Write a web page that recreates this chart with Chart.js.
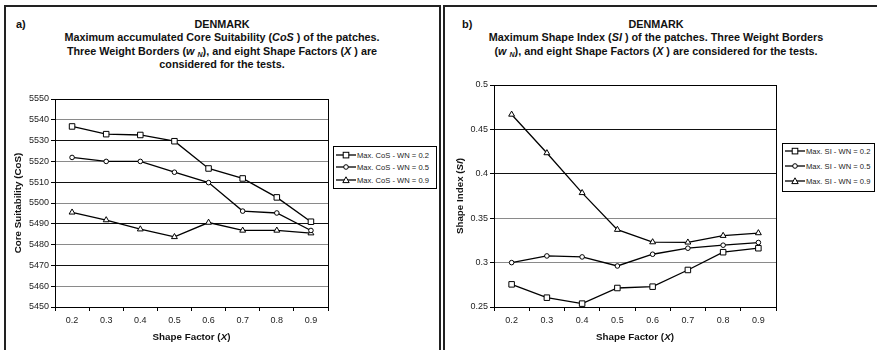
<!DOCTYPE html>
<html>
<head>
<meta charset="utf-8">
<script src="https://cdn.jsdelivr.net/npm/chart.js@4/dist/chart.umd.min.js"></script>
<style>
  html, body { margin:0; padding:0; background:#fff; }
  body { width:877px; height:350px; position:relative; overflow:hidden; font-family:"Liberation Sans", Arial, sans-serif; color:#111; }
  .panel { position:absolute; border:2px solid #222; box-sizing:border-box; }
  .title { position:absolute; text-align:center; font-weight:bold; font-size:10.8px; line-height:13.5px; color:#111; white-space:nowrap; }
  .tag { position:absolute; font-weight:bold; font-size:11px; line-height:13px; color:#111; }
  canvas { position:absolute; }
  .legend { position:absolute; border:1px solid #000; background:#fff; box-sizing:border-box; font-size:7.6px; color:#222; }
  .legend .row { position:absolute; left:0; height:10px; display:flex; align-items:center; white-space:nowrap; }
  .legend svg { display:block; }
  sub { font-size:7px; vertical-align:-2px; line-height:0; }
</style>
</head>
<body>
<div class="panel" style="left:4px; top:5px; width:437px; height:400px;"></div>
<div class="panel" style="left:443px; top:5px; width:450px; height:400px;"></div>

<div class="tag" style="left:16px; top:18px;">a)</div>
<div class="title" style="left:4px; width:436px; top:17.5px;">DENMARK<br>Maximum accumulated Core Suitability (<i>CoS</i> ) of the patches.<br>Three Weight Borders (<i>w <sub>N</sub></i>), and eight Shape Factors (<i>X</i> ) are<br>considered for the tests.</div>

<div class="tag" style="left:462px; top:18px;">b)</div>
<div class="title" style="left:444px; width:424px; top:17.5px;">DENMARK<br>Maximum Shape Index (<i>SI</i> ) of the patches. Three Weight Borders<br>(<i>w <sub>N</sub></i>), and eight Shape Factors (<i>X</i> ) are considered for the tests.</div>

<canvas id="c1" width="440" height="280" style="left:0px; top:70px;"></canvas>
<canvas id="c2" width="433" height="280" style="left:444px; top:70px;"></canvas>

<div class="legend" id="lg1" style="left:333px; top:146px; width:104px; height:43px;"></div>
<div class="legend" id="lg2" style="left:782px; top:143px; width:93px; height:49px;"></div>

<script>
// ---- data ----
const shapeFactors = ['0.2','0.3','0.4','0.5','0.6','0.7','0.8','0.9'];

const cosWN02 = [5536.8, 5533.1, 5532.7, 5529.7, 5516.6, 5511.8, 5502.7, 5491.0];
const cosWN05 = [5521.9, 5520.0, 5520.0, 5514.8, 5509.8, 5496.1, 5495.2, 5486.8];
const cosWN09 = [5495.5, 5491.8, 5487.4, 5483.7, 5490.6, 5486.8, 5486.8, 5485.5];

const siWN02 = [0.2755, 0.2605, 0.2538, 0.2714, 0.2729, 0.2917, 0.3117, 0.3162];
const siWN05 = [0.3000, 0.3075, 0.3064, 0.2962, 0.3094, 0.3162, 0.3196, 0.3226];
const siWN09 = [0.4668, 0.4234, 0.3785, 0.3371, 0.3231, 0.3228, 0.3303, 0.3333];

const cosLabels = ['Max. CoS - WN = 0.2', 'Max. CoS - WN = 0.5', 'Max. CoS - WN = 0.9'];
const siLabels  = ['Max. SI - WN = 0.2', 'Max. SI - WN = 0.5', 'Max. SI - WN = 0.9'];

const cosAxis = { min: 5450, max: 5550, step: 10 };
const siAxis  = { min: 0.25, max: 0.5, step: 0.05 };

// ---- styles ----
const FONT = '"Liberation Sans", Arial, sans-serif';
const markers = [
  { style: 'rect', radius: 3.9 },
  { style: 'circle', radius: 2.3 },
  { style: 'triangle', radius: 3.4 }
];

function makeDatasets(labels, series) {
  return series.map((d, i) => ({
    label: labels[i],
    data: d,
    borderColor: '#000',
    borderWidth: 1.3,
    pointStyle: markers[i].style,
    pointRadius: markers[i].radius,
    pointBackgroundColor: '#fff',
    pointBorderColor: '#000',
    pointBorderWidth: 1,
    tension: 0,
    fill: false
  }));
}

function drawRich(ctx, segs, x, y, size, rotate) {
  ctx.save();
  ctx.translate(x, y);
  if (rotate) ctx.rotate(-Math.PI / 2);
  ctx.fillStyle = '#111';
  ctx.textBaseline = 'middle';
  let total = 0;
  const widths = segs.map(s => {
    ctx.font = (s.i ? 'italic ' : '') + 'bold ' + size + 'px ' + FONT;
    const w = ctx.measureText(s.t).width;
    total += w;
    return w;
  });
  let cx = -total / 2;
  segs.forEach((s, k) => {
    ctx.font = (s.i ? 'italic ' : '') + 'bold ' + size + 'px ' + FONT;
    ctx.textAlign = 'left';
    ctx.fillText(s.t, cx, 0);
    cx += widths[k];
  });
  ctx.restore();
}

function framePlugin(xTitle, yTitle, yTitleOffset) {
  return {
    id: 'frame',
    afterDraw(chart) {
      const a = chart.chartArea, ctx = chart.ctx;
      ctx.save();
      ctx.strokeStyle = '#000';
      ctx.lineWidth = 1;
      ctx.strokeRect(Math.round(a.left) + 0.5, Math.round(a.top) + 0.5, Math.round(a.right - a.left), Math.round(a.bottom - a.top));
      ctx.restore();
      drawRich(ctx, xTitle, (a.left + a.right) / 2, a.bottom + 30, 9.8, false);
      drawRich(ctx, yTitle, a.left - yTitleOffset, (a.top + a.bottom) / 2, 9.8, true);
    }
  };
}

function makeChart(id, labels, series, axis, padding, gridColorFn, tickFmt, xTitle, yTitle, yOff) {
  return new Chart(document.getElementById(id), {
    type: 'line',
    data: { labels: shapeFactors, datasets: makeDatasets(labels, series) },
    options: {
      responsive: false,
      animation: false,
      devicePixelRatio: 1,
      layout: { padding: padding },
      plugins: { legend: { display: false }, tooltip: { enabled: false }, title: { display: false } },
      scales: {
        x: {
          type: 'category',
          offset: true,
          grid: { offset: true, drawOnChartArea: false, drawTicks: true, tickLength: 4, color: '#000', lineWidth: 1 },
          border: { display: true, color: '#000', width: 1 },
          ticks: { color: '#222', font: { family: FONT, size: 9 }, padding: 4, maxRotation: 0, autoSkip: false },
          afterFit(s) { s.height = 40; }
        },
        y: {
          min: axis.min, max: axis.max,
          ticks: { stepSize: axis.step, autoSkip: false, color: '#222', font: { family: FONT, size: 9 }, padding: 2, callback: tickFmt },
          grid: { color: gridColorFn, lineWidth: 1, drawTicks: true, tickLength: 4, tickColor: '#000' },
          border: { display: true, color: '#000', width: 1 },
          afterFit(s) { s.width = 45; }
        }
      }
    },
    plugins: [framePlugin(xTitle, yTitle, yOff)]
  });
}

const xTitleSegs = [{ t: 'Shape Factor (' }, { t: 'X', i: true }, { t: ')' }];

makeChart('c1', cosLabels, [cosWN02, cosWN05, cosWN09], cosAxis,
  { left: 10, right: 112, top: 29, bottom: 3 },
  ctx => {
    const v = ctx.tick ? ctx.tick.value : 0;
    return Math.round((v - 5450) / 10) % 2 === 1 ? '#8a8a8a' : '#111';
  },
  v => String(v),
  xTitleSegs,
  [{ t: 'Core Suitability (CoS)' }],
  37);

makeChart('c2', siLabels, [siWN02, siWN05, siWN09], siAxis,
  { left: 5, right: 101, top: 15, bottom: 3 },
  ctx => {
    const v = ctx.tick ? ctx.tick.value : 0;
    return v < 0.375 ? '#8a8a8a' : '#111';
  },
  v => String(Number(v.toFixed(2))),
  xTitleSegs,
  [{ t: 'Shape Index (' }, { t: 'SI', i: true }, { t: ')' }],
  34);

// ---- legends ----
function markerSvg(kind) {
  let m = '';
  if (kind === 'rect') m = '<rect x="7.2" y="1.3" width="5.6" height="5.6" fill="#fff" stroke="#000" stroke-width="1"/>';
  else if (kind === 'circle') m = '<circle cx="10" cy="4" r="2.3" fill="#fff" stroke="#000" stroke-width="1"/>';
  else m = '<polygon points="10,0.8 13.2,6.6 6.8,6.6" fill="#fff" stroke="#000" stroke-width="1"/>';
  return '<svg width="20" height="8" viewBox="0 0 20 8"><line x1="0" y1="4" x2="20" y2="4" stroke="#000" stroke-width="1.3"/>' + m + '</svg>';
}
function buildLegend(id, labels, rowYs) {
  const el = document.getElementById(id);
  labels.forEach((lab, i) => {
    const r = document.createElement('div');
    r.className = 'row';
    r.style.top = (rowYs[i] - 5) + 'px';
    r.style.left = '2px';
    r.innerHTML = markerSvg(markers[i].style) + '<span style="margin-left:1px">' + lab + '</span>';
    el.appendChild(r);
  });
}
buildLegend('lg1', cosLabels, [8, 20, 33]);
buildLegend('lg2', siLabels, [7, 22, 37]);
</script>
</body>
</html>
